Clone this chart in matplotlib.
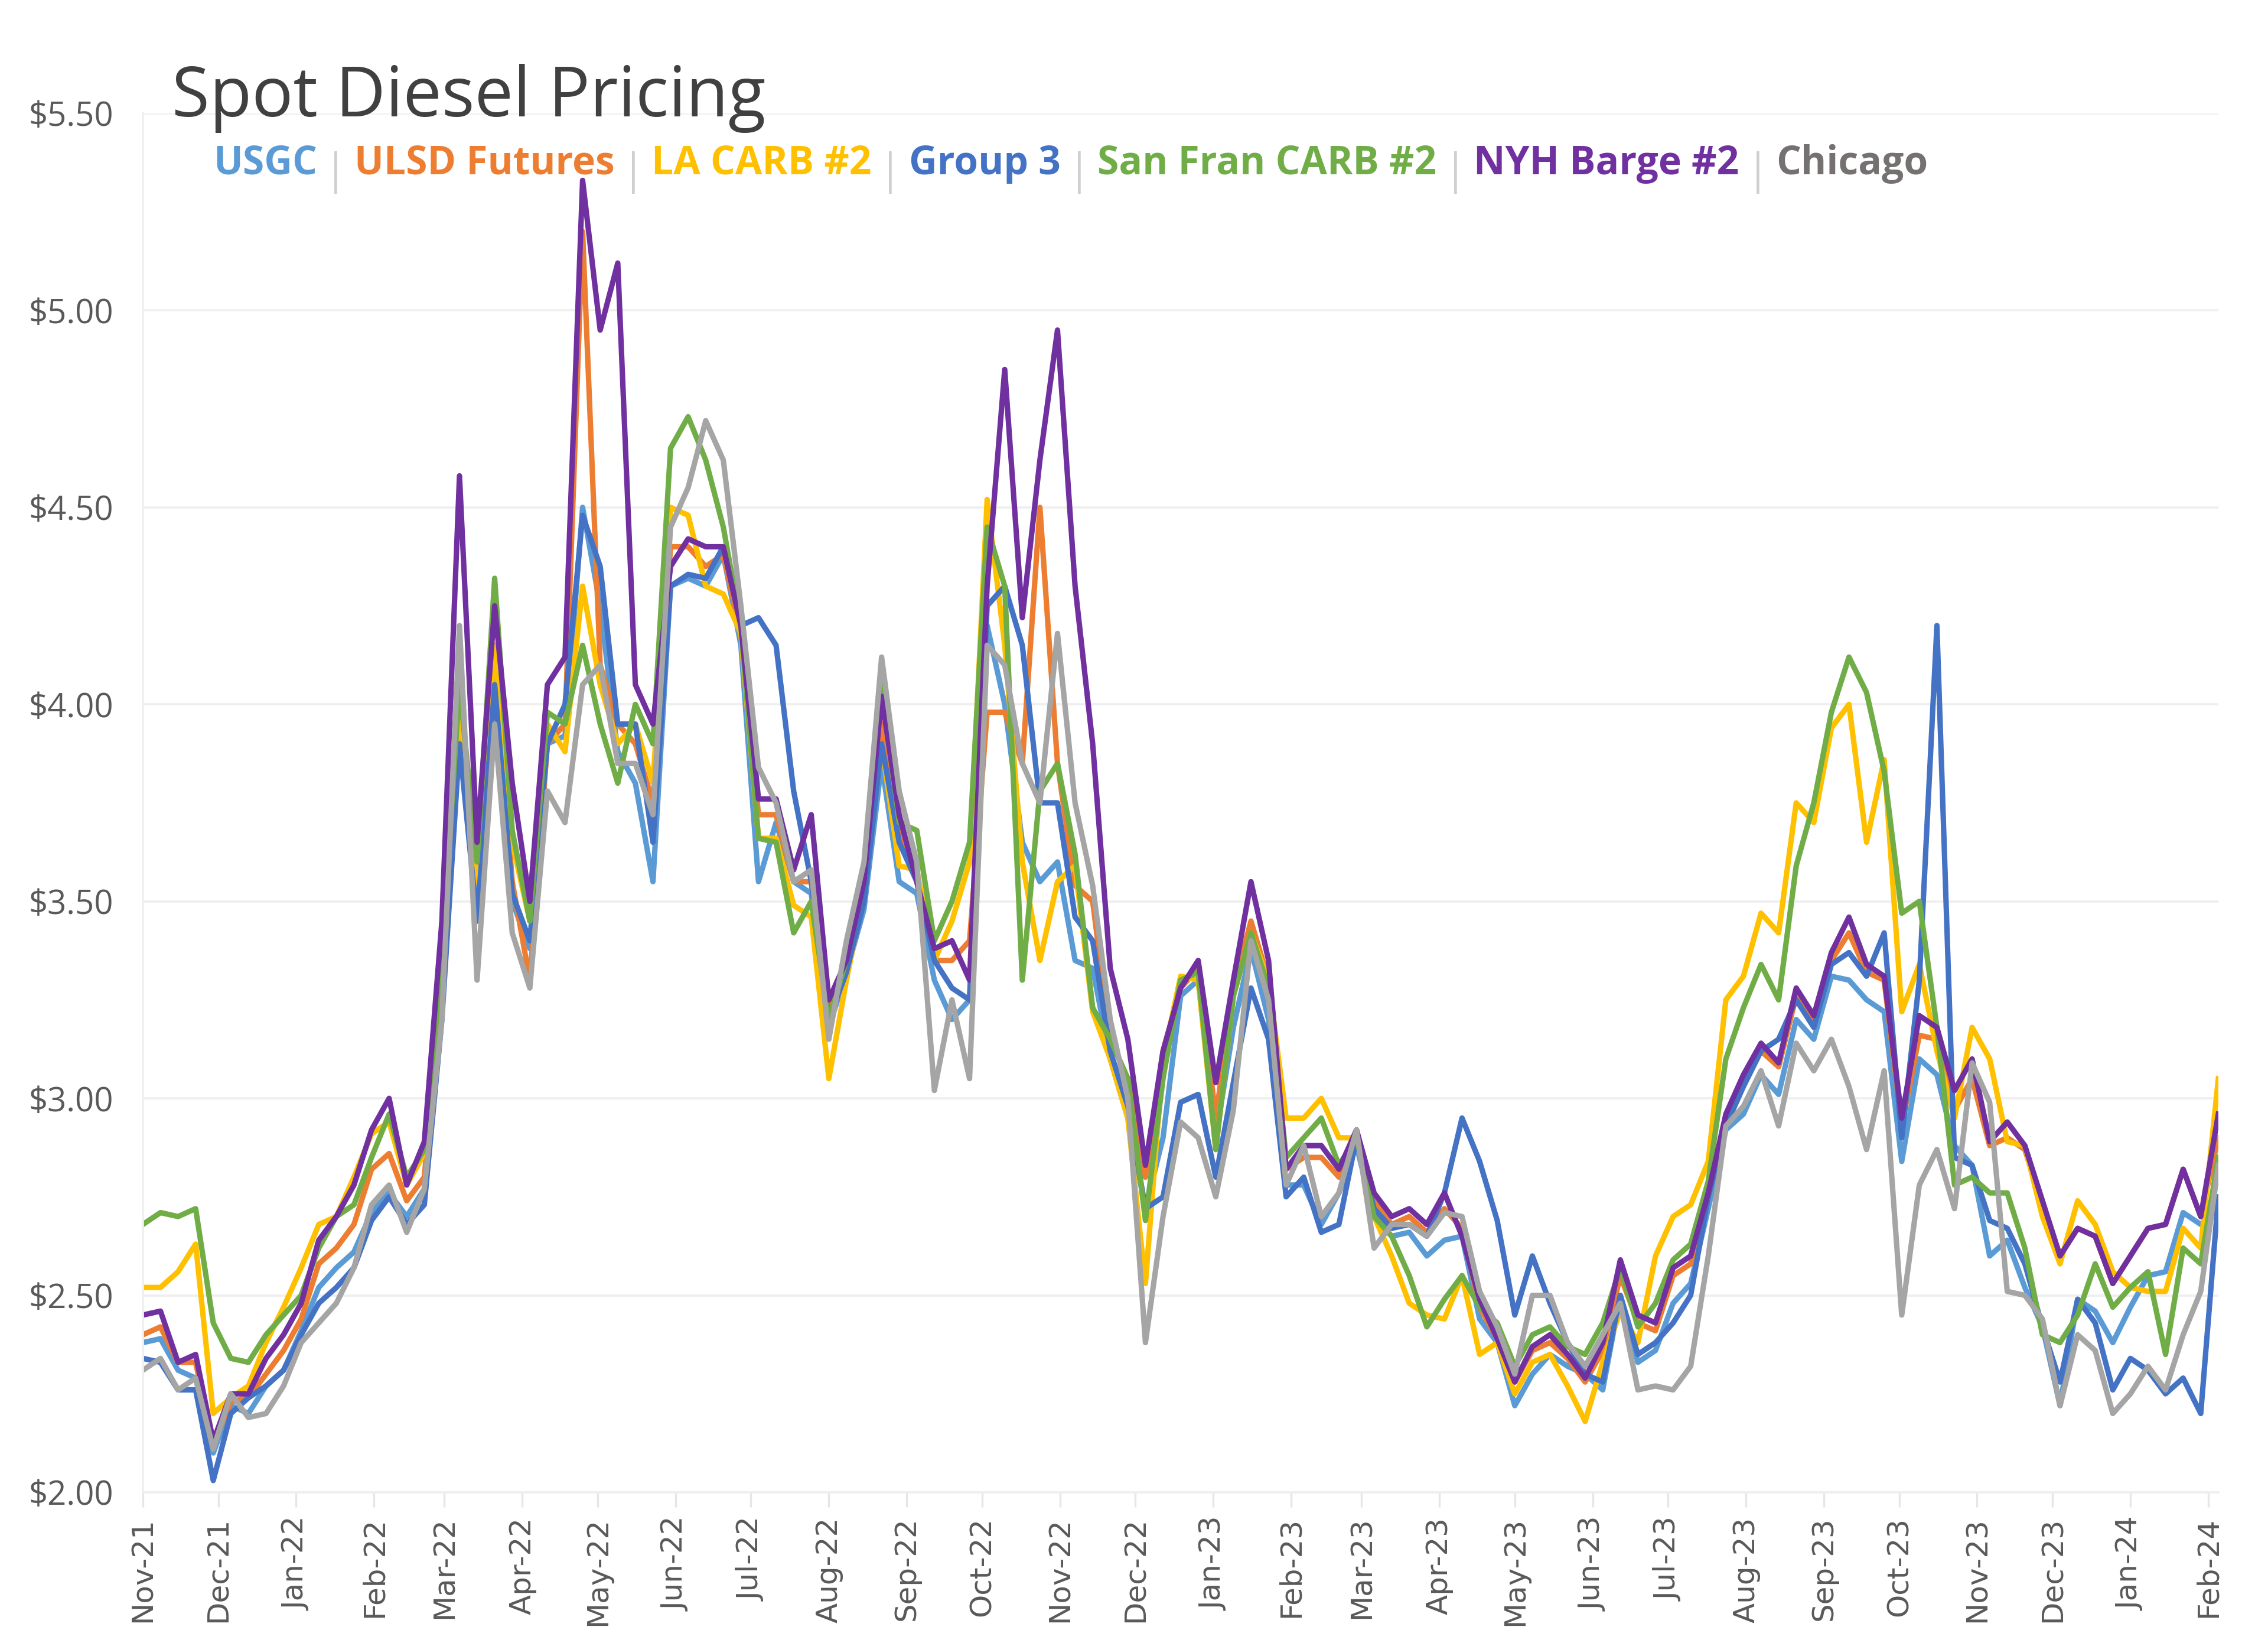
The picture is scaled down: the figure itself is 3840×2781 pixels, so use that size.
import numpy as np
import pandas as pd
import matplotlib
matplotlib.use("Agg")
import matplotlib.pyplot as plt
import matplotlib.dates as mdates
from matplotlib.ticker import FuncFormatter

plt.rcParams["font.family"] = ["Open Sans", "DejaVu Sans"]

# ── data (weekly readings, $/gal) ────────────────────────────────────────────
dates = pd.date_range("2021-11-01", periods=119, freq="7D")

usgc = [2.38, 2.39, 2.31, 2.29, 2.10, 2.22, 2.20, 2.27, 2.31, 2.41,
        2.52, 2.57, 2.61, 2.71, 2.76, 2.70, 2.77, 3.25, 3.95, 3.45,
        4.05, 3.50, 3.38, 3.90, 3.92, 4.50, 4.25, 3.88, 3.80, 3.55,
        4.30, 4.32, 4.30, 4.38, 4.15, 3.55, 3.70, 3.55, 3.52, 3.18,
        3.32, 3.48, 3.85, 3.55, 3.52, 3.30, 3.20, 3.25, 4.20, 4.00,
        3.65, 3.55, 3.60, 3.35, 3.33, 3.10, 2.95, 2.72, 2.90, 3.26,
        3.30, 2.90, 3.18, 3.38, 3.20, 2.78, 2.78, 2.68, 2.76, 2.88,
        2.70, 2.65, 2.66, 2.60, 2.64, 2.65, 2.44, 2.38, 2.22, 2.30,
        2.35, 2.32, 2.30, 2.26, 2.50, 2.33, 2.36, 2.48, 2.53, 2.72,
        2.92, 2.96, 3.06, 3.01, 3.20, 3.15, 3.31, 3.30, 3.25, 3.22,
        2.84, 3.10, 3.06, 2.88, 2.83, 2.60, 2.64, 2.52, 2.42, 2.22,
        2.49, 2.46, 2.38, 2.47, 2.55, 2.56, 2.71, 2.68, 2.72]

ulsd = [2.40, 2.42, 2.33, 2.33, 2.12, 2.23, 2.24, 2.30, 2.36, 2.44,
        2.58, 2.62, 2.68, 2.82, 2.86, 2.74, 2.80, 3.30, 4.00, 3.55,
        4.15, 3.55, 3.30, 3.90, 3.95, 5.20, 4.10, 3.95, 3.90, 3.75,
        4.40, 4.40, 4.35, 4.38, 4.18, 3.72, 3.72, 3.55, 3.55, 3.22,
        3.33, 3.52, 3.95, 3.68, 3.56, 3.35, 3.35, 3.40, 3.98, 3.98,
        3.85, 4.50, 3.85, 3.54, 3.50, 3.15, 3.05, 2.80, 3.12, 3.28,
        3.33, 2.95, 3.28, 3.45, 3.30, 2.82, 2.85, 2.85, 2.80, 2.92,
        2.74, 2.68, 2.70, 2.66, 2.72, 2.67, 2.47, 2.39, 2.28, 2.36,
        2.38, 2.34, 2.28, 2.36, 2.55, 2.43, 2.41, 2.55, 2.58, 2.75,
        2.95, 3.04, 3.12, 3.08, 3.26, 3.20, 3.35, 3.42, 3.32, 3.30,
        2.93, 3.16, 3.15, 2.97, 3.05, 2.88, 2.90, 2.87, 2.73, 2.60,
        2.67, 2.65, 2.53, 2.60, 2.67, 2.68, 2.82, 2.70, 2.90]

la_carb = [2.52, 2.52, 2.56, 2.63, 2.20, 2.24, 2.27, 2.38, 2.47, 2.57,
           2.68, 2.70, 2.80, 2.91, 2.94, 2.78, 2.86, 3.30, 4.00, 3.55,
           4.15, 3.65, 3.45, 3.95, 3.88, 4.30, 4.05, 3.90, 3.95, 3.80,
           4.50, 4.48, 4.30, 4.28, 4.18, 3.66, 3.66, 3.49, 3.46, 3.05,
           3.30, 3.52, 3.90, 3.59, 3.58, 3.35, 3.45, 3.60, 4.52, 4.15,
           3.60, 3.35, 3.55, 3.59, 3.22, 3.10, 2.95, 2.53, 3.10, 3.31,
           3.30, 2.87, 3.26, 3.42, 3.30, 2.95, 2.95, 3.00, 2.90, 2.90,
           2.70, 2.60, 2.48, 2.45, 2.44, 2.55, 2.35, 2.38, 2.25, 2.33,
           2.35, 2.27, 2.18, 2.33, 2.46, 2.38, 2.60, 2.70, 2.73, 2.84,
           3.25, 3.31, 3.47, 3.42, 3.75, 3.70, 3.94, 4.00, 3.65, 3.86,
           3.22, 3.34, 3.12, 2.95, 3.18, 3.10, 2.89, 2.88, 2.70, 2.58,
           2.74, 2.68, 2.56, 2.52, 2.51, 2.51, 2.67, 2.62, 3.05]

group3 = [2.34, 2.33, 2.26, 2.26, 2.03, 2.20, 2.24, 2.27, 2.31, 2.40,
          2.48, 2.52, 2.57, 2.69, 2.75, 2.68, 2.73, 3.20, 3.90, 3.45,
          4.05, 3.52, 3.40, 3.90, 4.00, 4.48, 4.35, 3.95, 3.95, 3.65,
          4.30, 4.33, 4.32, 4.40, 4.20, 4.22, 4.15, 3.78, 3.55, 3.20,
          3.32, 3.50, 3.90, 3.65, 3.55, 3.35, 3.28, 3.25, 4.25, 4.30,
          4.15, 3.75, 3.75, 3.46, 3.40, 3.12, 2.98, 2.72, 2.75, 2.99,
          3.01, 2.80, 3.04, 3.28, 3.15, 2.75, 2.80, 2.66, 2.68, 2.90,
          2.72, 2.67, 2.68, 2.65, 2.76, 2.95, 2.84, 2.69, 2.45, 2.60,
          2.48, 2.38, 2.30, 2.28, 2.50, 2.35, 2.38, 2.43, 2.50, 2.75,
          2.93, 3.03, 3.12, 3.15, 3.25, 3.18, 3.34, 3.37, 3.31, 3.42,
          2.90, 3.30, 4.20, 2.85, 2.83, 2.69, 2.67, 2.58, 2.42, 2.28,
          2.49, 2.43, 2.26, 2.34, 2.31, 2.25, 2.29, 2.20, 2.75]

sf_carb = [2.68, 2.71, 2.70, 2.72, 2.43, 2.34, 2.33, 2.40, 2.45, 2.50,
           2.62, 2.70, 2.73, 2.85, 2.96, 2.80, 2.87, 3.35, 4.05, 3.60,
           4.32, 3.68, 3.45, 3.98, 3.95, 4.15, 3.95, 3.80, 4.00, 3.90,
           4.65, 4.73, 4.62, 4.45, 4.20, 3.66, 3.65, 3.42, 3.50, 3.20,
           3.35, 3.55, 4.05, 3.70, 3.68, 3.40, 3.50, 3.65, 4.45, 4.30,
           3.30, 3.78, 3.85, 3.62, 3.23, 3.15, 3.05, 2.69, 3.05, 3.30,
           3.32, 2.87, 3.26, 3.42, 3.28, 2.85, 2.90, 2.95, 2.83, 2.90,
           2.70, 2.65, 2.55, 2.42, 2.49, 2.55, 2.47, 2.43, 2.32, 2.40,
           2.42, 2.37, 2.35, 2.43, 2.57, 2.42, 2.48, 2.59, 2.63, 2.79,
           3.10, 3.23, 3.34, 3.25, 3.59, 3.75, 3.98, 4.12, 4.03, 3.83,
           3.47, 3.50, 3.18, 2.78, 2.80, 2.76, 2.76, 2.62, 2.40, 2.38,
           2.45, 2.58, 2.47, 2.52, 2.56, 2.35, 2.62, 2.58, 2.85]

nyh_barge = [2.45, 2.46, 2.33, 2.35, 2.13, 2.25, 2.25, 2.34, 2.40, 2.48,
             2.64, 2.70, 2.78, 2.92, 3.00, 2.78, 2.89, 3.45, 4.58, 3.65,
             4.25, 3.80, 3.50, 4.05, 4.12, 5.33, 4.95, 5.12, 4.05, 3.95,
             4.35, 4.42, 4.40, 4.40, 4.20, 3.76, 3.76, 3.58, 3.72, 3.25,
             3.35, 3.55, 4.02, 3.72, 3.55, 3.38, 3.40, 3.30, 4.30, 4.85,
             4.22, 4.62, 4.95, 4.30, 3.90, 3.33, 3.15, 2.83, 3.12, 3.28,
             3.35, 3.04, 3.30, 3.55, 3.35, 2.82, 2.88, 2.88, 2.82, 2.92,
             2.76, 2.70, 2.72, 2.68, 2.76, 2.65, 2.49, 2.39, 2.28, 2.37,
             2.40, 2.35, 2.29, 2.38, 2.59, 2.45, 2.43, 2.57, 2.60, 2.76,
             2.96, 3.06, 3.14, 3.09, 3.28, 3.21, 3.37, 3.46, 3.34, 3.31,
             2.95, 3.21, 3.18, 3.02, 3.10, 2.89, 2.94, 2.88, 2.74, 2.60,
             2.67, 2.65, 2.53, 2.60, 2.67, 2.68, 2.82, 2.70, 2.96]

chicago = [2.31, 2.34, 2.26, 2.29, 2.11, 2.25, 2.19, 2.20, 2.27, 2.38,
           2.43, 2.48, 2.57, 2.73, 2.78, 2.66, 2.77, 3.20, 4.20, 3.30,
           3.95, 3.42, 3.28, 3.78, 3.70, 4.05, 4.10, 3.85, 3.85, 3.72,
           4.45, 4.55, 4.72, 4.62, 4.25, 3.84, 3.75, 3.55, 3.58, 3.15,
           3.40, 3.60, 4.12, 3.78, 3.60, 3.02, 3.25, 3.05, 4.15, 4.10,
           3.85, 3.75, 4.18, 3.75, 3.54, 3.20, 3.00, 2.38, 2.70, 2.94,
           2.90, 2.75, 2.97, 3.40, 3.25, 2.78, 2.88, 2.70, 2.76, 2.92,
           2.62, 2.68, 2.68, 2.65, 2.71, 2.70, 2.51, 2.42, 2.30, 2.50,
           2.50, 2.38, 2.32, 2.40, 2.48, 2.26, 2.27, 2.26, 2.32, 2.60,
           2.93, 2.98, 3.07, 2.93, 3.14, 3.07, 3.15, 3.03, 2.87, 3.07,
           2.45, 2.78, 2.87, 2.72, 3.09, 2.99, 2.51, 2.50, 2.44, 2.22,
           2.40, 2.36, 2.20, 2.25, 2.32, 2.26, 2.40, 2.51, 2.83]

names = ["USGC", "ULSD Futures", "LA CARB #2", "Group 3",
         "San Fran CARB #2", "NYH Barge #2", "Chicago"]
series = [usgc, ulsd, la_carb, group3, sf_carb, nyh_barge, chicago]
colors = ["#5B9BD5", "#ED7D31", "#FFC000", "#4472C4",
          "#70AD47", "#7030A0", "#A5A5A5"]
label_colors = colors[:-1] + ["#767171"]

# ── figure ───────────────────────────────────────────────────────────────────
fig = plt.figure(figsize=(12.8, 9.27), dpi=300)
ax = fig.add_axes([0.0630, 0.0917, 0.9151, 0.8393])

for vals, col in zip(series, colors):
    ax.plot(dates, vals, color=col, lw=2.2, solid_joinstyle="round")

ax.set_ylim(2.0, 5.5)
ax.set_yticks(np.arange(2.0, 5.51, 0.5))
ax.yaxis.set_major_formatter(FuncFormatter(lambda v, p: f"${v:.2f}"))
ax.set_xlim(pd.Timestamp("2021-11-01"), pd.Timestamp("2024-02-05"))
ax.xaxis.set_major_locator(mdates.MonthLocator())
ax.xaxis.set_major_formatter(mdates.DateFormatter("%b-%y"))

ax.grid(axis="y", color="#EFEFEF", lw=0.9)
ax.set_axisbelow(True)
for s in ["top", "right"]:
    ax.spines[s].set_visible(False)
ax.spines["left"].set_color("#F0F0F0")
ax.spines["bottom"].set_color("#EFEFEF")
ax.spines["left"].set_linewidth(0.9)
ax.spines["bottom"].set_linewidth(0.9)

ax.tick_params(axis="y", length=0, pad=12, labelsize=13.5, labelcolor="#595959")
ax.tick_params(axis="x", length=6, width=0.8, color="#E6E6E6", pad=4,
               labelsize=12, labelcolor="#595959", labelrotation=90)
for lab in ax.get_xticklabels():
    lab.set_family("DejaVu Sans")

# title
fig.text(0.0758, 0.929, "Spot Diesel Pricing", fontsize=28, color="#404040",
         va="baseline", ha="left")

# coloured text legend with separators
renderer = fig.canvas.get_renderer()
fw = fig.get_size_inches()[0] * fig.dpi
x = 0.094
y = 0.894
gap = 12 / fw
for i, (name, col) in enumerate(zip(names, label_colors)):
    t = fig.text(x, y, name, color=col, fontsize=15.8, fontweight="bold",
                 va="baseline", ha="left")
    x += t.get_window_extent(renderer).width / fw + gap
    if i < len(names) - 1:
        s = fig.text(x, y - 0.006, "|", color="#D0D0D0", fontsize=17,
                     va="baseline", ha="left")
        x += s.get_window_extent(renderer).width / fw + gap

fig.savefig("out.png", dpi=300, facecolor="white")
